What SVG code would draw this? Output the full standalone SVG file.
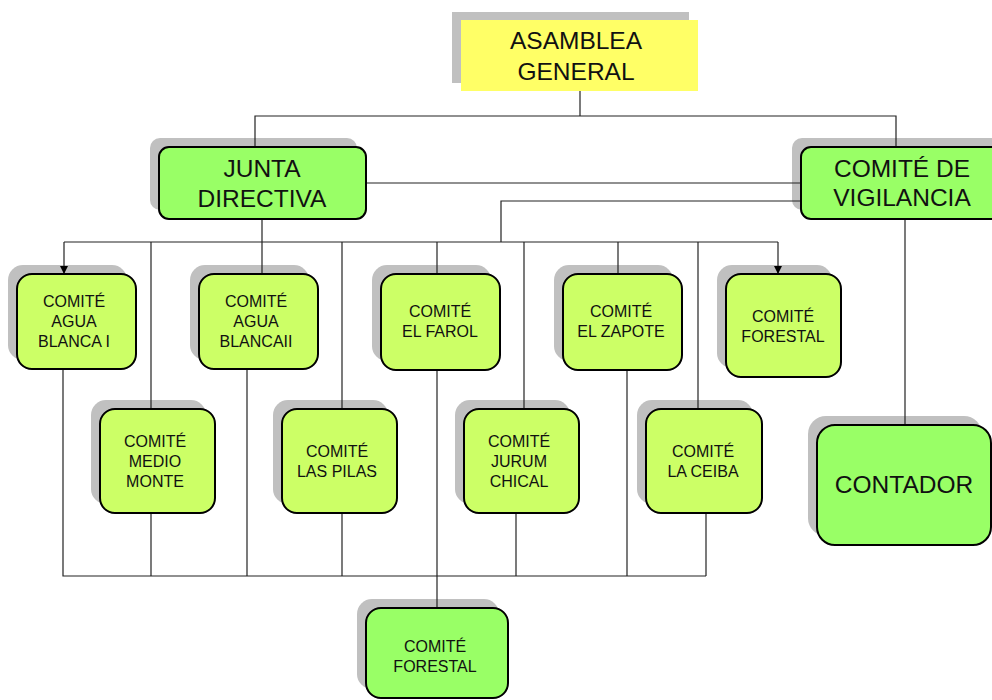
<svg xmlns="http://www.w3.org/2000/svg" width="992" height="700" viewBox="0 0 992 700">
<defs>
<marker id="arr" markerWidth="8" markerHeight="8" refX="7" refY="4" orient="auto" markerUnits="userSpaceOnUse">
<path d="M0,0 L8,4 L0,8 Z" fill="#000"/>
</marker>
</defs>
<style>
.sh{fill:#C0C0C0;stroke:none}
.lime{fill:#CCFF66;stroke:#000;stroke-width:2}
.green{fill:#99FF66;stroke:#000;stroke-width:2}
.c{stroke:#222;stroke-width:1.2;fill:none}
.t{font-family:"Liberation Sans",Arial,sans-serif;text-anchor:middle;fill:#111}
.s{font-size:16px}
.b{font-size:24.5px}
</style>
<rect width="992" height="700" fill="#fff"/>

<g id="asamblea">
<rect class="sh" x="452" y="12" width="237" height="71"/>
<rect x="461" y="20" width="237" height="71" fill="#FFFF66"/>
<text class="t b" x="576" y="49">ASAMBLEA</text>
<text class="t b" x="576" y="80">GENERAL</text>
</g>

<g id="junta">
<rect class="sh" x="150" y="138" width="207" height="72" rx="10"/>
<rect class="green" x="159" y="147" width="207" height="72" rx="10"/>
<text class="t b" x="262" y="177">JUNTA</text>
<text class="t b" x="262" y="207">DIRECTIVA</text>
</g>

<g id="vigilancia">
<rect class="sh" x="792" y="138" width="220" height="72" rx="10"/>
<rect class="green" x="801" y="147" width="220" height="72" rx="10"/>
<text class="t b" x="902" y="177">COMITÉ DE</text>
<text class="t b" x="902" y="206">VIGILANCIA</text>
</g>

<g id="agua-blanca-1">
<rect class="sh" x="8" y="265" width="119" height="95" rx="15"/>
<rect class="lime" x="17" y="274" width="119" height="95" rx="15"/>
<text class="t s" x="74" y="307">COMITÉ</text>
<text class="t s" x="74" y="327">AGUA</text>
<text class="t s" x="74" y="347">BLANCA I</text>
</g>

<g id="agua-blanca-2">
<rect class="sh" x="190" y="265" width="119" height="95" rx="15"/>
<rect class="lime" x="199" y="274" width="119" height="95" rx="15"/>
<text class="t s" x="256" y="307">COMITÉ</text>
<text class="t s" x="256" y="327">AGUA</text>
<text class="t s" x="256" y="347">BLANCAII</text>
</g>

<g id="el-farol">
<rect class="sh" x="372" y="265" width="119" height="96" rx="15"/>
<rect class="lime" x="381" y="274" width="119" height="96" rx="15"/>
<text class="t s" x="440" y="317">COMITÉ</text>
<text class="t s" x="440" y="337">EL FAROL</text>
</g>

<g id="el-zapote">
<rect class="sh" x="554" y="265" width="119" height="96" rx="15"/>
<rect class="lime" x="563" y="274" width="119" height="96" rx="15"/>
<text class="t s" x="621" y="317">COMITÉ</text>
<text class="t s" x="621" y="337">EL ZAPOTE</text>
</g>

<g id="forestal-top">
<rect class="sh" x="717" y="265" width="115" height="103" rx="15"/>
<rect class="lime" x="726" y="274" width="115" height="103" rx="15"/>
<text class="t s" x="783" y="322">COMITÉ</text>
<text class="t s" x="783" y="342">FORESTAL</text>
</g>

<g id="medio-monte">
<rect class="sh" x="91" y="400" width="115" height="104" rx="15"/>
<rect class="lime" x="100" y="409" width="115" height="104" rx="15"/>
<text class="t s" x="155" y="447">COMITÉ</text>
<text class="t s" x="155" y="467">MEDIO</text>
<text class="t s" x="155" y="487">MONTE</text>
</g>

<g id="las-pilas">
<rect class="sh" x="273" y="400" width="115" height="104" rx="15"/>
<rect class="lime" x="282" y="409" width="115" height="104" rx="15"/>
<text class="t s" x="337" y="457">COMITÉ</text>
<text class="t s" x="337" y="477">LAS PILAS</text>
</g>

<g id="jurum-chical">
<rect class="sh" x="455" y="400" width="115" height="104" rx="15"/>
<rect class="lime" x="464" y="409" width="115" height="104" rx="15"/>
<text class="t s" x="519" y="447">COMITÉ</text>
<text class="t s" x="519" y="467">JURUM</text>
<text class="t s" x="519" y="487">CHICAL</text>
</g>

<g id="la-ceiba">
<rect class="sh" x="637" y="400" width="116" height="104" rx="15"/>
<rect class="lime" x="646" y="409" width="116" height="104" rx="15"/>
<text class="t s" x="703" y="457">COMITÉ</text>
<text class="t s" x="703" y="477">LA CEIBA</text>
</g>

<g id="contador">
<rect class="sh" x="808" y="416" width="174" height="120" rx="18"/>
<rect class="green" x="817" y="425" width="174" height="120" rx="18"/>
<text class="t b" x="904" y="493">CONTADOR</text>
</g>

<g id="forestal-bottom">
<rect class="sh" x="357" y="599" width="142" height="90" rx="15"/>
<rect class="green" x="366" y="608" width="142" height="90" rx="15"/>
<text class="t s" x="435" y="652">COMITÉ</text>
<text class="t s" x="435" y="672">FORESTAL</text>
</g>

<g id="connectors">
<polyline class="c" points="580,91 580,116"/>
<polyline class="c" points="255,146 255,116 896,116 896,146"/>
<polyline class="c" points="367,183 800,183"/>
<polyline class="c" points="800,201 501,201 501,242"/>
<polyline class="c" points="262,220 262,273"/>
<polyline class="c" points="905,220 905,424"/>
<polyline class="c" points="64,242 778,242"/>
<line class="c" x1="64" y1="242" x2="64" y2="273" marker-end="url(#arr)"/>
<line class="c" x1="778" y1="242" x2="778" y2="273" marker-end="url(#arr)"/>
<line class="c" x1="151" y1="242" x2="151" y2="408"/>
<line class="c" x1="342" y1="242" x2="342" y2="408"/>
<line class="c" x1="437" y1="242" x2="437" y2="273"/>
<line class="c" x1="524" y1="242" x2="524" y2="408"/>
<line class="c" x1="618" y1="242" x2="618" y2="273"/>
<line class="c" x1="698" y1="242" x2="698" y2="408"/>
<polyline class="c" points="63,370 63,576 706,576"/>
<line class="c" x1="151" y1="514" x2="151" y2="576"/>
<line class="c" x1="247" y1="370" x2="247" y2="576"/>
<line class="c" x1="342" y1="514" x2="342" y2="576"/>
<line class="c" x1="437" y1="371" x2="437" y2="607"/>
<line class="c" x1="516" y1="514" x2="516" y2="576"/>
<line class="c" x1="627" y1="371" x2="627" y2="576"/>
<line class="c" x1="706" y1="514" x2="706" y2="576"/>
</g>
</svg>
